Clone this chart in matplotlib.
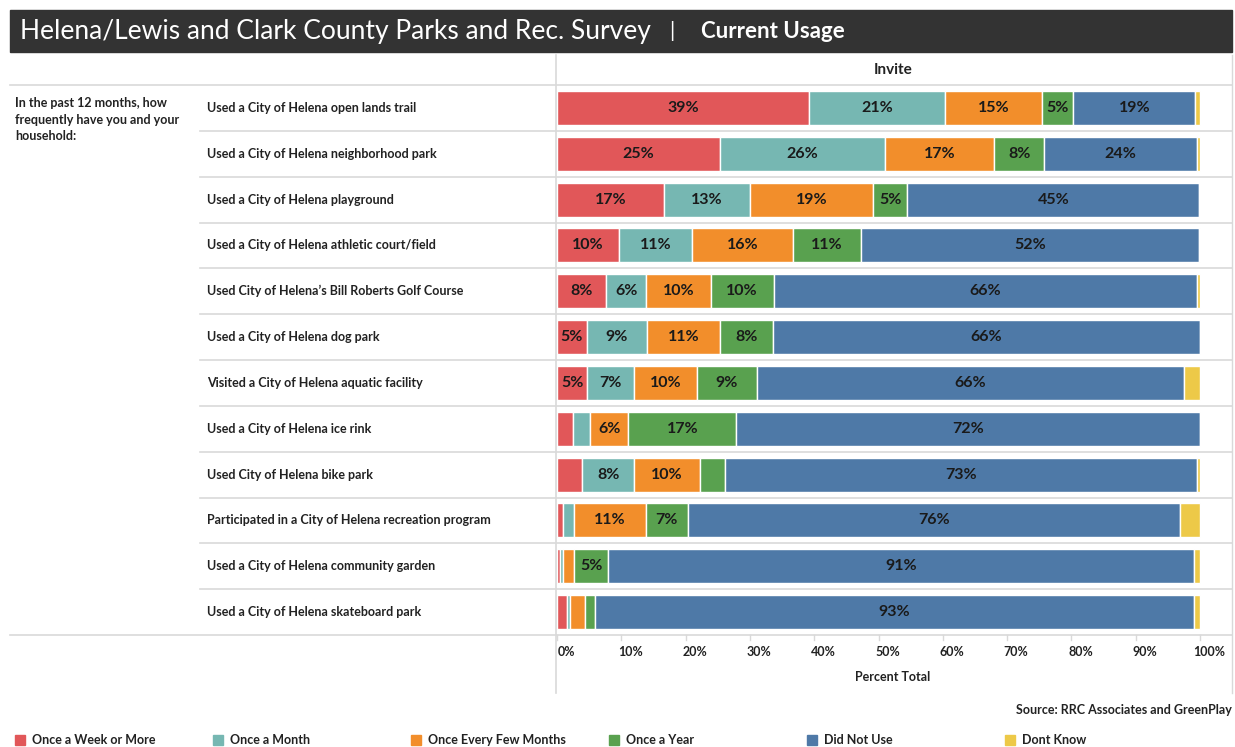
import matplotlib.pyplot as plt
from matplotlib.lines import Line2D
from matplotlib.patches import Rectangle
import numpy as np

plt.rcParams['font.family'] = ['Lato', 'DejaVu Sans']

# ---- data ----
activities = [
    "Used a City of Helena open lands trail",
    "Used a City of Helena neighborhood park",
    "Used a City of Helena playground",
    "Used a City of Helena athletic court/field",
    "Used City of Helena\u2019s Bill Roberts Golf Course",
    "Used a City of Helena dog park",
    "Visited a City of Helena aquatic facility",
    "Used a City of Helena ice rink",
    "Used City of Helena bike park",
    "Participated in a City of Helena recreation program",
    "Used a City of Helena community garden",
    "Used a City of Helena skateboard park",
]
responses = ["Once a Week or More", "Once a Month", "Once Every Few Months",
             "Once a Year", "Did Not Use", "Dont Know"]

weekly   = [39.2, 25.3, 16.6, 9.6, 7.6, 4.6, 4.7, 2.5, 3.9, 1.0, 0.4, 1.5]
monthly  = [21.1, 25.7, 13.4, 11.4, 6.3, 9.4, 7.3, 2.7, 8.1, 1.6, 0.6, 0.5]
few_mo   = [15.2, 17.0, 19.1, 15.7, 10.0, 11.4, 9.8, 5.9, 10.2, 11.2, 1.7, 2.4]
yearly   = [4.8, 7.8, 5.4, 10.6, 9.8, 8.2, 9.3, 16.8, 4.0, 6.6, 5.3, 1.5]
not_used = [19.0, 23.7, 45.4, 52.5, 65.9, 66.4, 66.4, 72.1, 73.3, 76.5, 91.0, 93.1]
dont_kn  = [0.7, 0.5, 0.0, 0.2, 0.4, 0.0, 2.5, 0.0, 0.5, 3.1, 1.0, 1.0]

colors = ["#E15759", "#76B7B2", "#F28E2B", "#59A14F", "#4E79A7", "#EDC948"]
ticks = np.arange(0, 101, 10)

W, H = 1235, 747
fig = plt.figure(figsize=(W / 100, H / 100), dpi=100)

def fx(px):
    return px / W

def fy(py):
    return 1 - py / H

# title bar
fig.patches.append(Rectangle((fx(10), fy(52)), fx(1222), 42 / H,
                             transform=fig.transFigure, color="#333333", zorder=0))
fig.text(fx(20), fy(31), "Helena/Lewis and Clark County Parks and Rec. Survey",
         color="white", fontsize=19, va="center", ha="left")
fig.text(fx(672), fy(31), "|", color="white", fontsize=15, va="center", ha="center")
fig.text(fx(701), fy(31), "Current Usage", color="white", fontsize=16,
         fontweight="bold", va="center", ha="left")

# bar panel
top, bottom = 85, 635
ax = fig.add_axes([fx(556), fy(bottom), fx(1232 - 556), (bottom - top) / H])
n = len(activities)
y = np.arange(n)
series = [weekly, monthly, few_mo, yearly, not_used, dont_kn]
left = np.zeros(n)
for vals, col in zip(series, colors):
    vals = np.array(vals)
    ax.barh(y, vals, left=left, height=0.74, color=col, edgecolor="white", linewidth=1)
    for yi, (l, v) in enumerate(zip(left, vals)):
        if round(v) >= 5:
            ax.text(l + v / 2, yi, f"{round(v)}%", ha="center", va="center",
                    fontsize=11.5, fontweight="bold", color="#1a1a1a")
    left += vals

ax.set_xlim(-0.15, (1232 - 557) / 6.43)
ax.set_ylim(n - 0.5, -0.5)
ax.axis("off")

# grid lines and separators
line_col = "#d9d9d9"
row_h = (bottom - top) / n
fig.add_artist(Line2D([fx(10), fx(1232)], [fy(top), fy(top)], color=line_col, lw=1.2))
fig.add_artist(Line2D([fx(10), fx(1232)], [fy(bottom), fy(bottom)], color=line_col, lw=1.2))
for i in range(1, n):
    yy = top + i * row_h
    fig.add_artist(Line2D([fx(200), fx(1232)], [fy(yy), fy(yy)], color=line_col, lw=1.2))
fig.add_artist(Line2D([fx(556), fx(556)], [fy(55), fy(693)], color=line_col, lw=1.2))
fig.add_artist(Line2D([fx(1232), fx(1232)], [fy(55), fy(693)], color=line_col, lw=1.0))

for i, label in enumerate(activities):
    fig.text(fx(207), fy(top + (i + 0.5) * row_h), label, fontsize=9,
             fontweight="bold", color="#222222", va="center", ha="left")

fig.text(fx(15), fy(97), "In the past 12 months, how\nfrequently have you and your\nhousehold:",
         fontsize=9, fontweight="bold", color="#222222", va="top", ha="left",
         linespacing=1.45)

fig.text(fx(893), fy(70), "Invite", fontsize=11, fontweight="bold",
         color="#222222", ha="center", va="center")

# x axis
for t in ticks:
    xp = 557 + t * 6.43
    fig.add_artist(Line2D([fx(xp), fx(xp)], [fy(bottom), fy(bottom + 5)], color=line_col, lw=1))
    fig.text(fx(xp + 9), fy(652), f"{t}%", fontsize=9, fontweight="bold",
             color="#222222", ha="center", va="center")
fig.text(fx(893), fy(677), "Percent Total", fontsize=9, fontweight="bold",
         color="#222222", ha="center", va="center")

fig.text(fx(1232), fy(710), "Source: RRC Associates and GreenPlay", fontsize=9,
         fontweight="bold", color="#222222", ha="right", va="center")

# legend
for i, (lab, col) in enumerate(zip(responses, colors)):
    x0 = 15 + i * 198
    fig.patches.append(Rectangle((fx(x0), fy(745)), 10 / W, 10 / H,
                                 transform=fig.transFigure, color=col))
    fig.text(fx(x0 + 17), fy(740), lab, fontsize=9, fontweight="bold",
             color="#222222", ha="left", va="center")

fig.savefig("out.png", dpi=100)
